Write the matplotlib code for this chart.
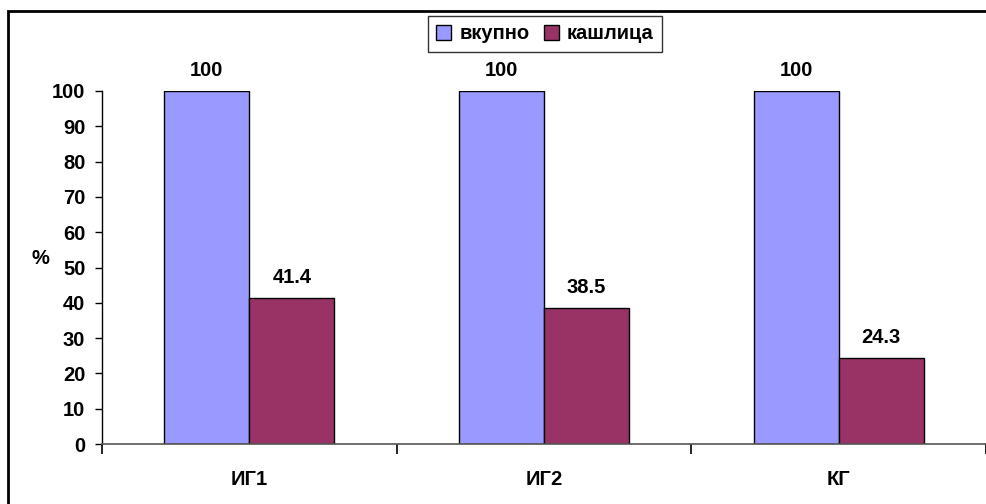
import matplotlib
matplotlib.use("Agg")
import matplotlib.pyplot as plt
from matplotlib.patches import Rectangle
import numpy as np

plt.rcParams['font.family'] = ['Liberation Sans', 'DejaVu Sans']

categories = ["ИГ1", "ИГ2", "КГ"]
series_names = ["вкупно", "кашлица"]
total = [100, 100, 100]
cough = [41.4, 38.5, 24.3]
yticks = [0, 10, 20, 30, 40, 50, 60, 70, 80, 90, 100]

W, H = 987, 504
FS = 14.5
fig = plt.figure(figsize=(W / 100, H / 100), dpi=100)
fig.patch.set_facecolor("white")

# outer chart frame (extends past right and bottom edges)
fig.patches.append(Rectangle((8 / W, -0.05), 1.1, (H - 11) / H + 0.05,
                             transform=fig.transFigure, fill=False,
                             edgecolor="black", linewidth=2, zorder=0))

ax = fig.add_axes([102 / W, (H - 444) / H, (986 - 102) / W, (444 - 91) / H])

x = np.arange(len(categories))
bw = 0.289
c_total = "#9999FF"
c_cough = "#993366"
b1 = ax.bar(x - bw / 2, total, bw, color=c_total, edgecolor="black",
            linewidth=1, label=series_names[0], zorder=2)
b2 = ax.bar(x + bw / 2, cough, bw, color=c_cough, edgecolor="black",
            linewidth=1, label=series_names[1], zorder=2)

for bars, vals in ((b1, total), (b2, cough)):
    for rect, v in zip(bars, vals):
        ax.text(rect.get_x() + rect.get_width() / 2, v + 3.2,
                f"{v:g}", ha="center", va="bottom", fontsize=FS,
                fontweight="bold")

ax.set_xlim(-0.5, len(categories) - 0.5)
ax.set_ylim(0, 100)
ax.set_yticks(yticks)
ax.set_yticklabels([str(t) for t in yticks], fontsize=FS, fontweight="bold")

ax.set_xticks(x)
ax.set_xticklabels(categories, fontsize=FS, fontweight="bold")
ax.tick_params(axis="x", length=0, pad=19)
ax.set_xticks(np.arange(len(categories) + 1) - 0.5, minor=True)
ax.tick_params(axis="x", which="minor", length=7, width=1.2, direction="out")
ax.tick_params(axis="y", length=5, width=1, direction="out", pad=7)

for s in ("top", "right"):
    ax.spines[s].set_visible(False)
ax.spines["left"].set_linewidth(1)
ax.spines["bottom"].set_linewidth(1.2)
ax.spines["bottom"].set_color("#555555")

ax.set_ylabel("%", rotation=0, fontsize=FS, fontweight="bold")
ax.yaxis.set_label_coords(-62 / (986 - 102), (444 - 268) / (444 - 91))

leg = fig.legend(handles=[b1, b2], labels=series_names, loc="upper center",
                 bbox_to_anchor=(545 / W, 1 - 16 / H), ncol=2, frameon=True,
                 fancybox=False, edgecolor="black", handlelength=0.75,
                 handleheight=0.75, handletextpad=0.4, columnspacing=0.7,
                 borderpad=0.42, borderaxespad=0,
                 prop={"size": FS, "weight": "bold"})
leg.get_frame().set_linewidth(1)

fig.savefig("out.png", dpi=100, facecolor="white")
